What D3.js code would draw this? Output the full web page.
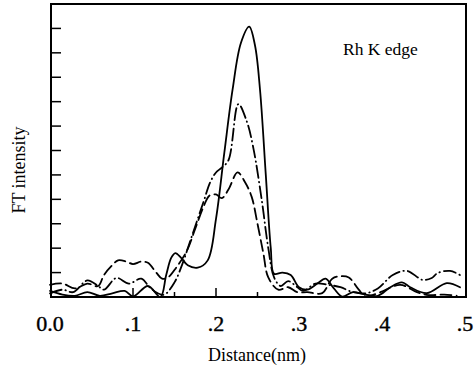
<!DOCTYPE html>
<html>
<head>
<meta charset="utf-8">
<script src="https://cdn.jsdelivr.net/npm/d3@7"></script>
<style>
  body { margin: 0; background: #fff; }
  svg { display: block; }
  text { font-family: "Liberation Serif", "Times New Roman", serif; fill: #000; }
</style>
</head>
<body>
<svg id="chart" width="476" height="368"></svg>
<script>
// FT magnitude vs distance, three samples (solid, dash-dot, dashed)
var xTicks = [0, 0.1, 0.2, 0.3, 0.4, 0.5];
var xTickLabels = ["0.0", ".1", ".2", ".3", ".4", ".5"];
var xMinorTicks = [0.1, 0.15, 0.2, 0.25];
var yTicks = [1, 2, 3, 4, 5, 6, 7, 8, 9, 10, 11];

var solidR = [0, 0.015, 0.03, 0.045, 0.06, 0.075, 0.09, 0.1, 0.118, 0.133, 0.14, 0.146, 0.151, 0.158, 0.166, 0.178, 0.19, 0.2, 0.21, 0.22, 0.23, 0.24, 0.247, 0.253, 0.26, 0.266, 0.27, 0.28, 0.29, 0.3, 0.31, 0.322, 0.332, 0.342, 0.352, 0.365, 0.38, 0.395, 0.41, 0.424, 0.434, 0.454, 0.478, 0.494];
var solidV = [0.25, 0.1, 0.05, 0.2, 0.05, 0.15, 0.25, 0.02, 0.45, 0.0, 0.9, 1.6, 1.8, 1.6, 1.3, 1.2, 1.5, 3.2, 5.9, 8.5, 10.4, 11.07, 10.3, 8.5, 5.0, 2.0, 0.95, 1.0, 0.9, 0.4, 0.3, 0.55, 0.75, 0.35, 0.02, 0.2, 0.1, 0.05, 0.4, 0.6, 0.4, 0.16, 0.57, 0.4];

var dashDotR = [0, 0.015, 0.028, 0.045, 0.058, 0.065, 0.08, 0.095, 0.11, 0.12, 0.13, 0.138, 0.15, 0.16, 0.17, 0.185, 0.193, 0.2, 0.207, 0.215, 0.227, 0.237, 0.245, 0.255, 0.263, 0.27, 0.278, 0.287, 0.298, 0.305, 0.32, 0.335, 0.35, 0.365, 0.38, 0.395, 0.413, 0.43, 0.449, 0.46, 0.467, 0.482, 0.494];
var dashDotV = [0.15, 0.3, 0.2, 0.68, 0.45, 0.3, 0.78, 0.55, 0.75, 0.4, 0.15, 0.1, 0.6, 1.4, 2.4, 3.9, 4.7, 5.1, 5.3, 5.6, 7.9, 7.2, 6.1, 4.0, 2.0, 0.8, 0.45, 0.65, 0.4, 0.25, 0.55, 0.5, 0.4, 0.2, 0.15, 0.35, 0.9, 1.07, 0.7, 0.78, 0.98, 1.07, 0.9];

var dashedR = [0, 0.015, 0.03, 0.045, 0.058, 0.065, 0.075, 0.082, 0.092, 0.1, 0.11, 0.118, 0.128, 0.135, 0.142, 0.152, 0.165, 0.175, 0.185, 0.192, 0.2, 0.207, 0.215, 0.226, 0.235, 0.243, 0.25, 0.257, 0.263, 0.275, 0.287, 0.298, 0.31, 0.328, 0.34, 0.35, 0.36, 0.372, 0.38, 0.398, 0.422, 0.442, 0.456, 0.475, 0.49];
var dashedV = [0.5, 0.55, 0.35, 0.55, 0.45, 0.9, 1.3, 1.5, 1.45, 1.35, 1.45, 1.4, 1.0, 0.75, 0.8, 1.2, 1.9, 2.8, 3.7, 4.15, 4.2, 4.05, 4.4, 5.1, 4.7, 4.1, 3.0, 1.8, 0.8, 0.3, 0.4, 0.2, 0.2, 0.16, 0.75, 0.85, 0.8, 0.3, 0.02, 0.2, 0.5, 0.2, 0.08, 0.1, 0.05];

var svg = d3.select('#chart');
var frameL = 51, frameR = 466, frameT = 4, frameB = 297;

var x = d3.scaleLinear().domain([0, 0.5]).range([50, 465]);
var y = d3.scaleLinear().domain([0, 12]).range([frameB, frameT]);

// frame
svg.append('rect')
    .attr('x', frameL).attr('y', frameT)
    .attr('width', frameR - frameL).attr('height', frameB - frameT)
    .attr('fill', 'none')
    .attr('stroke', '#000')
    .attr('stroke-width', 2);

// ticks on the left axis, pointing inward
svg.selectAll('line.ytick').data(yTicks).enter().append('line')
    .attr('class', 'ytick')
    .attr('x1', frameL).attr('x2', frameL + 10)
    .attr('y1', function(d) { return y(d); })
    .attr('y2', function(d) { return y(d); })
    .attr('stroke', '#000').attr('stroke-width', 1.5);

svg.selectAll('line.xtick').data(xMinorTicks).enter().append('line')
    .attr('class', 'xtick')
    .attr('x1', function(d) { return x(d); })
    .attr('x2', function(d) { return x(d); })
    .attr('y1', frameB)
    .attr('y2', function(d, i) { return frameB - (i % 2 ? 5 : 9); })
    .attr('stroke', '#000').attr('stroke-width', 1.5);

svg.selectAll('text.xlab').data(xTicks).enter().append('text')
    .attr('class', 'xlab')
    .attr('x', function(d) { return x(d); })
    .attr('y', 331)
    .attr('text-anchor', 'middle')
    .attr('font-size', 22)
    .attr('stroke', '#000').attr('stroke-width', 0.4)
    .text(function(d, i) { return xTickLabels[i]; });

svg.append('text')
    .attr('x', 257).attr('y', 361)
    .attr('text-anchor', 'middle')
    .attr('font-size', 18)
    .text('Distance(nm)');

svg.append('text')
    .attr('transform', 'translate(25,170) rotate(-90)')
    .attr('text-anchor', 'middle')
    .attr('font-size', 18)
    .text('FT intensity');

svg.append('text')
    .attr('x', 343).attr('y', 55)
    .attr('font-size', 17.5)
    .text('Rh K edge');

var line = d3.line()
    .x(function(d) { return x(d[0]); })
    .y(function(d) { return y(Math.max(0, d[1])); })
    .curve(d3.curveCatmullRom.alpha(0.5));

function pairs(rs, vs) { return rs.map(function(r, i) { return [r, vs[i]]; }); }

var series = [
    { pts: pairs(dashedR, dashedV), dash: '11,5' },
    { pts: pairs(dashDotR, dashDotV), dash: '12,4,0.5,4' },
    { pts: pairs(solidR, solidV), dash: null }
];

svg.selectAll('path.curve').data(series).enter().append('path')
    .attr('class', 'curve')
    .attr('d', function(d) { return line(d.pts); })
    .attr('fill', 'none')
    .attr('stroke', '#000')
    .attr('stroke-width', 1.8)
    .attr('stroke-linecap', 'round')
    .attr('stroke-dasharray', function(d) { return d.dash; });
</script>
</body>
</html>
